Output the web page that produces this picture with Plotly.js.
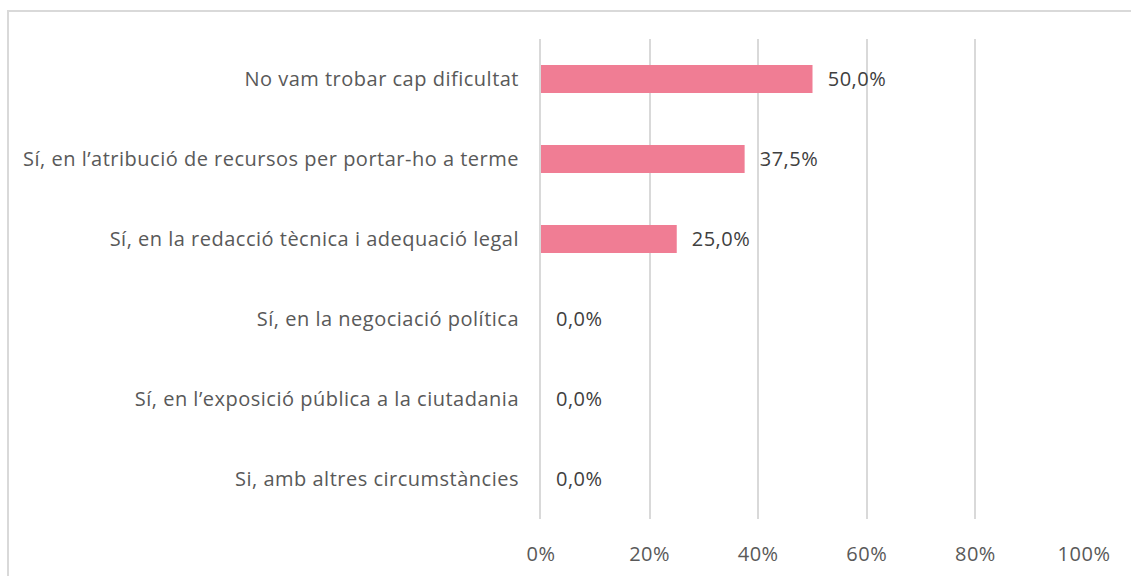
<!DOCTYPE html>
<html>
<head>
<meta charset="utf-8">
<script src="https://cdn.plot.ly/plotly-3.0.1.min.js"></script>
<style>
  html, body { margin: 0; padding: 0; background: #fff; }
  #wrap { position: relative; width: 1131px; height: 576px; overflow: hidden; }
  #chart { position: absolute; left: 0; top: 0; width: 1131px; height: 576px; }
  #chart text { letter-spacing: 0.5px; }
  #frame { position: absolute; left: 7px; top: 10px; width: 1130px; height: 600px;
           border: 2px solid #d9d9d9; box-sizing: border-box; pointer-events: none; }
</style>
</head>
<body>
<div id="wrap">
  <div id="chart"></div>
  <div id="frame"></div>
</div>
<script>
const categories = [
  "No vam trobar cap dificultat",
  "Sí, en l’atribució de recursos per portar-ho a terme",
  "Sí, en la redacció tècnica i adequació legal",
  "Sí, en la negociació política",
  "Sí, en l’exposició pública a la ciutadania",
  "Si, amb altres circumstàncies"
];
const values = [50.0, 37.5, 25.0, 0.0, 0.0, 0.0];
const xTickValues = [0, 20, 40, 60, 80, 100];
const xTickLabels = ["0%", "20%", "40%", "60%", "80%", "100%"];

const FONT = "'Open Sans', sans-serif";

const trace = {
  type: "bar",
  orientation: "h",
  x: values,
  y: categories,
  width: 0.35,
  marker: { color: "#F07D94", line: { width: 0 } },
  hoverinfo: "none"
};

const annotations = values.map((v, i) => ({
  x: v,
  y: categories[i],
  xref: "x",
  yref: "y",
  text: v.toFixed(1).replace(".", ",") + "%",
  showarrow: false,
  xanchor: "left",
  yanchor: "middle",
  xshift: 14,
  yshift: 1,
  font: { family: FONT, size: 20, color: "#404040" }
}));

const layout = {
  width: 1131,
  height: 576,
  margin: { l: 541, r: 47, t: 39, b: 57 },
  paper_bgcolor: "rgba(0,0,0,0)",
  plot_bgcolor: "rgba(0,0,0,0)",
  showlegend: false,
  bargap: 0.65,
  xaxis: {
    range: [0, 100],
    tickvals: xTickValues,
    ticktext: xTickLabels,
    showgrid: true,
    gridcolor: "#d9d9d9",
    gridwidth: 2,
    zeroline: false,
    showline: false,
    ticks: "outside",
    ticklen: 17,
    tickcolor: "rgba(0,0,0,0)",
    tickfont: { family: FONT, size: 20, color: "#595959" },
    fixedrange: true
  },
  yaxis: {
    autorange: "reversed",
    showgrid: false,
    zeroline: false,
    showline: true,
    linecolor: "#d9d9d9",
    linewidth: 2,
    ticks: "outside",
    ticklen: 16,
    tickcolor: "rgba(0,0,0,0)",
    tickfont: { family: FONT, size: 20, color: "#595959" },
    fixedrange: true
  },
  annotations: annotations
};

Plotly.newPlot("chart", [trace], layout, { displayModeBar: false, staticPlot: true });
</script>
</body>
</html>
